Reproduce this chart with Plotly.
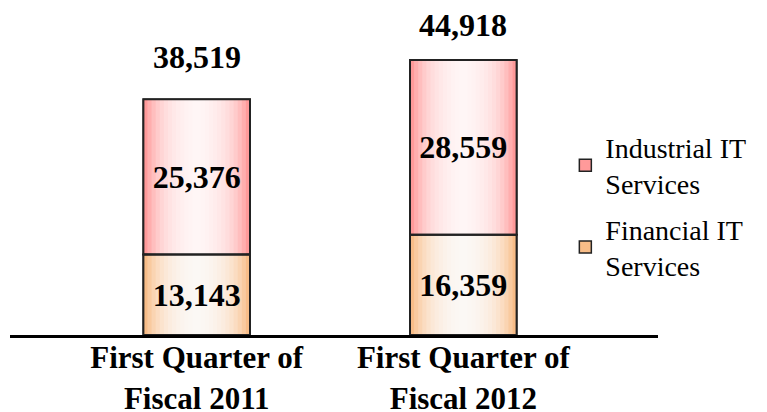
import plotly.graph_objects as go

categories = ["First Quarter of<br>Fiscal 2011", "First Quarter of<br>Fiscal 2012"]
financial = [13143, 16359]
industrial = [25376, 28559]
totals = [38519, 44918]
series_names = ["Industrial IT<br>Services", "Financial IT<br>Services"]

FONT = "Liberation Serif"
BAR_W = 0.40
PINK = "#FF9A9A"
TAN = "#F8BD88"
N_LAYERS = 13
LAYER_ALPHA = 0.2
TOTAL_SHIFTS = [22, 15]

x_idx = list(range(len(categories)))
fig = go.Figure()

segments = [
    (series_names[0], industrial, financial, PINK, "ind"),
    (series_names[1], financial, [0] * len(financial), TAN, "fin"),
]

# base coloured bars (legend entries)
for name, vals, base, col, grp in segments:
    fig.add_trace(go.Bar(
        x=x_idx, y=vals, base=base, width=BAR_W, name=name, legendgroup=grp,
        marker=dict(color=col, line=dict(color="#222222", width=1.5)),
        hoverinfo="skip",
    ))

# white layers to simulate the horizontal gradient (white centre)
for name, vals, base, col, grp in segments:
    for k in range(1, N_LAYERS):
        fig.add_trace(go.Bar(
            x=x_idx, y=vals, base=base, width=BAR_W * (1 - k / N_LAYERS),
            marker=dict(color="white", opacity=LAYER_ALPHA, line=dict(width=0)),
            showlegend=False, hoverinfo="skip", legendgroup=grp,
        ))

# outline + value labels on top
for name, vals, base, col, grp in segments:
    fig.add_trace(go.Bar(
        x=x_idx, y=vals, base=base, width=BAR_W,
        marker=dict(color="rgba(0,0,0,0)", line=dict(color="#222222", width=2)),
        text=[f"{v:,}" for v in vals], textposition="inside",
        insidetextanchor="middle", constraintext="none",
        textfont=dict(family=FONT, size=32, color="black", weight="bold"),
        showlegend=False, hoverinfo="skip", legendgroup=grp,
    ))

for i, t in enumerate(totals):
    fig.add_annotation(
        x=x_idx[i], y=t, text=f"{t:,}", showarrow=False, yanchor="bottom",
        yshift=TOTAL_SHIFTS[i],
        font=dict(family=FONT, size=32, color="black", weight="bold"),
    )

fig.update_layout(
    width=767, height=412,
    margin=dict(l=2, r=117, t=12, b=85, autoexpand=False),
    barmode="overlay",
    paper_bgcolor="white", plot_bgcolor="white",
    showlegend=True,
    legend=dict(
        x=0.857, y=0.675, xanchor="left", yanchor="top",
        font=dict(family=FONT, size=28, color="black"),
        bgcolor="rgba(0,0,0,0)", itemwidth=30, tracegroupgap=6,
    ),
    xaxis=dict(
        tickmode="array", tickvals=x_idx, ticktext=categories,
        range=[-0.70, 1.73], showgrid=False, zeroline=False,
        showline=True, linecolor="black", linewidth=3, ticks="",
        automargin=False, ticklabelstandoff=-7,
        tickfont=dict(family=FONT, size=31, color="black", weight="bold"),
    ),
    yaxis=dict(range=[0, 51450], visible=False, showgrid=False, zeroline=False,
               automargin=False),
    hovermode=False,
)

fig.write_html("out.html")
